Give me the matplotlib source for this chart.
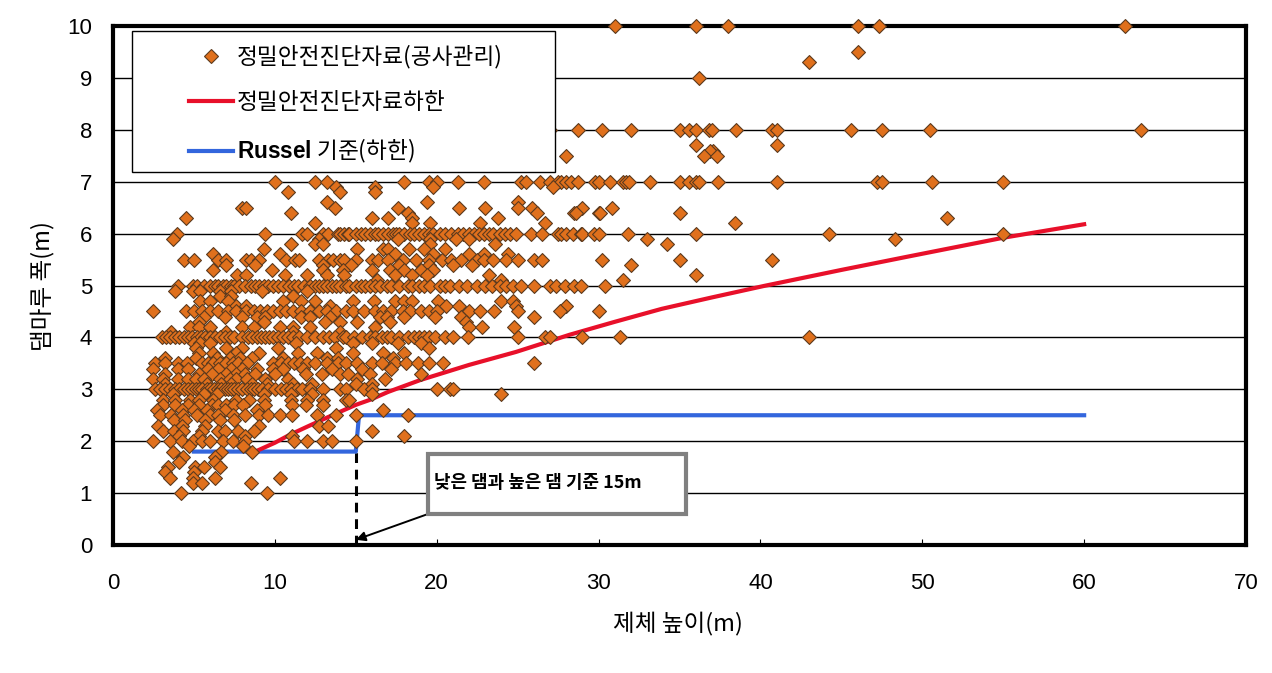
import matplotlib
matplotlib.use("Agg")
import matplotlib.pyplot as plt
from matplotlib.patches import Rectangle
from matplotlib.lines import Line2D

KR = ['Noto Sans CJK KR', 'DejaVu Sans']
plt.rcParams['font.family'] = KR
plt.rcParams['mathtext.fontset'] = 'custom'
plt.rcParams['mathtext.bf'] = 'Liberation Sans:bold'

W, H = 1272, 673

# points read row by row: height of the row, then the dam heights on it
x_100 = [31, 36, 38, 46, 47.3, 62.5]
x_95 = [46]
x_93 = [43]
x_90 = [36.2]
x_80 = [27, 28.7, 30.2, 32, 35, 35.6, 36, 36.8, 37, 38.5, 40.7, 41, 45.6, 47.5, 50.5, 63.5]
x_77 = [36, 41]
x_76 = [37.1, 36.9]
x_75 = [28, 36.5, 37.3]
x_70 = [10, 12.5, 13.2, 18, 19.5, 20, 21.3, 22.9, 25.2, 25.5, 26.4, 27, 27.5, 27.7, 28, 28.3, 28.7,
        29.8, 30, 30.7, 31.5, 31.7, 31.9, 33.2, 35, 35.6, 36, 36.2, 37.4, 41, 47.2, 47.5, 50.6, 55]
x_69 = [13.8, 16.2, 19.8, 27.2]
x_68 = [10.8, 14, 16.2]
x_66 = [13.2, 19.4, 25]
x_65 = [8, 8.2, 13.7, 17.6, 21.4, 23, 25, 25.9, 29, 30.8]
x_64 = [11, 18.2, 26.2, 28.5, 28.6, 30, 30.1, 35]
x_63 = [4.5, 16, 17, 18.5, 23.8, 51.5]
x_62 = [12.5, 18.45, 19.6, 22.7, 26.7, 38.4]
x_60 = [3.95, 9.4, 11.7, 12, 13, 13.3, 13.9, 14, 14.3, 14.5, 14.6, 15, 15.3, 15.6, 15.9, 16.2, 16.4, 16.7, 17, 17.3,
        17.5, 17.7, 18, 18.35, 18.6, 18.9, 19.2, 19.5, 19.8, 20.2, 20.5, 20.9, 21.3, 21.6, 22, 22.3, 22.6, 22.9,
        23.2, 23.5, 23.9, 24.2, 24.5, 24.9, 25.8, 26.5, 27.5, 27.7, 28, 28.4, 28.9, 29, 29.7, 30, 31.8, 36, 44.25, 55]
x_59 = [3.7, 12.7, 17.6, 19.6, 21.2, 22, 33, 48.3]
x_58 = [11, 12.5, 13, 19.6, 23.6, 34.2]
x_57 = [9.3, 15.1, 16.7, 17, 18.3, 19.2, 20.5]
x_56 = [6.2, 10.3, 17.4, 19.8, 22, 22.9, 24.4]
x_55 = [4.4, 5, 6.5, 7, 8.2, 8.5, 9, 10.7, 11.25, 11.5, 12.7, 13.3, 13.6, 14, 14.3, 15, 16, 16.4, 17, 17.9, 18.7,
        19.5, 20.3, 20.9, 21.5, 22.5, 22.9, 23.5, 24.3, 25, 26, 26.5, 30.2, 35, 40.7]
x_54 = [7, 8.8, 13, 14.7, 17.7, 19.5, 21, 22.2, 32]
x_53 = [6.2, 9.8, 13, 14.2, 16, 17.1, 18, 19, 19.8]
x_52 = [7.65, 8.2, 10.6, 12, 13.2, 14.3, 17.4, 18.45, 19.4, 23.2, 36]
x_51 = [16.3, 24, 31.5]
x_50 = [4, 4.95, 5.2, 5.6, 6, 6.3, 6.5, 6.8, 7, 7.3, 7.5, 7.8, 8.15, 8.5, 8.8, 9, 9.3, 9.6, 9.9, 10.2, 10.5, 10.9, 11.2,
        11.45, 11.8, 12.2, 12.5, 12.7, 13, 13.2, 13.5, 13.8, 14, 14.4, 14.6, 15, 15.3, 15.6, 15.9, 16.2, 16.5, 16.9, 17.2,
        17.7, 18.2, 18.5, 18.9, 19.2, 19.6, 20.2, 20.5, 20.8, 21.4, 21.9, 22.5, 23, 23.4, 23.9, 24.3, 24.7, 25.2, 26, 27,
        27.4, 27.9, 28.5, 28.9, 30.4]
x_49 = [3.8, 4.95, 5.4, 6.6, 7.3, 9.2, 12]
x_48 = [6.6, 7.3, 11.1]
x_47 = [5.4, 6, 7.1, 10.5, 11.6, 12.5, 14.8, 16.1, 17.4, 18, 18.45, 20.1, 24, 24.7]
x_46 = [7.6, 8.2, 13.4, 20.6, 21.4, 24.9, 28]
x_45 = [2.5, 4.5, 5, 5.5, 6, 6.5, 7.1, 7.6, 8.2, 8.7, 9.1, 9.5, 9.9, 10.3, 10.7, 11.1, 11.6, 12.2, 12.7, 13.2, 13.8,
        14.4, 14.8, 15.5, 16.2, 16.7, 17.2, 17.9, 18.35, 19, 19.5, 20, 22, 22.7, 23.55, 25, 27.6, 30]
x_44 = [5.6, 6.9, 8, 8.9, 9.4, 11.6, 12.2, 13.4, 16.5, 16.9, 18, 19.9, 21.5, 26]
x_43 = [5.3, 9.3, 13.1, 14, 15.1, 17.1, 21.8]
x_42 = [4.75, 5.3, 6, 8, 8.7, 10.3, 11.1, 12.2, 16.2, 22, 22.8, 24.8]
x_41 = [3.6, 7, 11.1, 14]
x_40 = [3, 3.3, 3.55, 3.8, 4.1, 4.4, 4.65, 4.9, 5.2, 5.45, 5.7, 6, 6.3, 6.6, 6.9, 7.2, 7.5, 7.95, 8.35, 8.6, 8.9, 9.15,
        9.4, 9.65, 9.9, 10.2, 10.5, 10.8, 11.1, 11.5, 12, 12.5, 13, 13.35, 13.7, 14.2, 14.4, 14.9, 15.4, 15.9, 16.2, 16.6,
        16.9, 17.2, 17.7, 18.25, 18.6, 18.9, 19.2, 19.5, 19.9, 20.5, 21, 21.95, 25, 26.7, 27, 29, 31.3, 43]
x_39 = [5, 5.4, 6, 11.3, 14.8, 16, 17.6, 19]
x_38 = [5.1, 7, 8, 10.2, 13.8, 19.5]
x_37 = [5.3, 6.2, 7.6, 9, 11.45, 12.6, 14.8, 16.7, 18]
x_36 = [3.2, 5.1, 6.4, 7.2, 7.85, 8.6, 10.5, 13.2, 13.9, 17.3]
x_35 = [2.6, 3.2, 4, 4.55, 5.5, 5.9, 6.2, 6.6, 7, 7.4, 7.75, 8.25, 9.9, 10.4, 10.8, 11.2, 11.55, 12, 12.5, 13.2, 13.9,
        14.4, 15.1, 16, 16.6, 17.4, 18.1, 18.85, 19.5, 20.4, 26]
x_34 = [2.5, 4, 4.65, 5.9, 6.5, 7.3, 7.95, 8.9, 9.9, 10.5, 11.75, 13.5, 15.4, 17.2]
x_33 = [3.2, 5.3, 6.1, 7, 7.6, 8.15, 8.8, 10, 11.9, 12.9, 14, 14.5, 15.9, 19]
x_32 = [2.5, 3.1, 4, 4.65, 5.1, 5.6, 6.6, 7.2, 7.6, 8.3, 9.4, 10.8, 15.1, 16.8]
x_31 = [3.2, 5.8, 6.7, 7.3, 8.6, 9.5, 11.1, 12.3, 15, 16]
x_30 = [2.6, 2.9, 3.2, 3.5, 3.8, 4.1, 4.4, 4.65, 4.9, 5.1, 5.3, 5.5, 5.8, 6, 6.25, 6.5, 6.7, 6.9, 7.1, 7.3, 7.5, 7.75,
        8, 8.25, 8.5, 8.7, 8.95, 9.2, 9.6, 10, 10.35, 10.7, 11, 11.35, 11.7, 12.2, 13, 14, 14.4, 15.5, 16, 20, 20.8, 21]
x_29 = [3.7, 5.6, 6.4, 9.3, 11, 12.3, 16, 24]
x_28 = [3.1, 3.8, 4.75, 5.3, 6.2, 7.6, 8.4, 9.3, 11, 12, 13, 14.4, 14.6]
x_27 = [3.1, 3.8, 4.65, 5.3, 6.1, 6.5, 7, 7.5, 8.05, 9.4, 11.05, 11.95, 13]
x_26 = [2.7, 4.25, 5, 5.8, 6.9, 8.9, 16.7]
x_25 = [2.9, 3.6, 4.35, 5.2, 6, 6.5, 7.4, 8.15, 9, 9.6, 10.3, 11.05, 12.6, 13.8, 15, 18.2]
x_24 = [3.75, 4.45, 5.7, 6.6, 7.5]
x_23 = [2.8, 4.25, 5.7, 9, 12.7, 13.3]
x_22 = [3.1, 3.75, 4.35, 5.5, 6.5, 6.9, 7.7, 8.7, 16]
x_21 = [4.05, 5.3, 8.15, 11.05, 18]
x_20 = [2.5, 3.5, 4.25, 4.95, 5.5, 6, 6.8, 7.4, 8.15, 11.2, 12, 13, 13.5, 15]
x_19 = [4.7, 8.05]
x_18 = [3.7, 6.7, 8.6]
x_17 = [4.35, 6.3]
x_16 = [4.05, 6.3]
x_15 = [3.4, 5.07, 5.6, 6.6]
x_14 = [3.2, 5]
x_13 = [3.5, 4.95, 6.3, 10.3]
x_12 = [4.95, 5.5, 8.5]
x_10 = [4.2, 9.5]

rows = [(10, x_100), (9.5, x_95), (9.3, x_93), (9, x_90), (8, x_80), (7.7, x_77), (7.6, x_76), (7.5, x_75),
        (7, x_70), (6.9, x_69), (6.8, x_68), (6.6, x_66), (6.5, x_65), (6.4, x_64), (6.3, x_63), (6.2, x_62),
        (6, x_60), (5.9, x_59), (5.8, x_58), (5.7, x_57), (5.6, x_56), (5.5, x_55), (5.4, x_54), (5.3, x_53),
        (5.2, x_52), (5.1, x_51), (5, x_50), (4.9, x_49), (4.8, x_48), (4.7, x_47), (4.6, x_46), (4.5, x_45),
        (4.4, x_44), (4.3, x_43), (4.2, x_42), (4.1, x_41), (4, x_40), (3.9, x_39), (3.8, x_38), (3.7, x_37),
        (3.6, x_36), (3.5, x_35), (3.4, x_34), (3.3, x_33), (3.2, x_32), (3.1, x_31), (3, x_30), (2.9, x_29),
        (2.8, x_28), (2.7, x_27), (2.6, x_26), (2.5, x_25), (2.4, x_24), (2.3, x_23), (2.2, x_22), (2.1, x_21),
        (2, x_20), (1.9, x_19), (1.8, x_18), (1.7, x_17), (1.6, x_16), (1.5, x_15), (1.4, x_14), (1.3, x_13),
        (1.2, x_12), (1, x_10)]

red_x = [9, 10, 10.9, 12, 13.4, 15, 15.9, 17, 19, 22, 24.9, 28.2, 31, 33.9, 37, 40.2, 45, 49, 55, 60]
red_y = [1.83, 1.97, 2.12, 2.28, 2.48, 2.7, 2.8, 2.95, 3.18, 3.47, 3.72, 4.05, 4.3, 4.55, 4.77, 4.99, 5.3, 5.55, 5.92, 6.18]
blue_x = [5, 15, 15.2, 60]
blue_y = [1.8, 1.8, 2.5, 2.5]
split_x = [15, 15]
split_y = [0, 1.8]

x_ticks = [0, 10, 20, 30, 40, 50, 60, 70]
y_ticks = [0, 1, 2, 3, 4, 5, 6, 7, 8, 9, 10]

legend_labels = ['정밀안전진단자료(공사관리)', '정밀안전진단자료하한', r'$\mathbf{Russel}$ 기준(하한)']
note = '낮은 댐과 높은 댐 기준 15m'


def fx(px):
    return px / W


def fy(py):
    return 1 - py / H


fig = plt.figure(figsize=(W / 100, H / 100), dpi=100)
ax = fig.add_axes([fx(113), fy(545), fx(1246) - fx(113), fy(26) - fy(545)])

pts_x = []
pts_y = []
for level, xs in rows:
    pts_x += xs
    pts_y += [level] * len(xs)

ax.set_xlim(0, 70)
ax.set_ylim(0, 10)
ax.set_xticks(x_ticks)
ax.set_yticks(y_ticks)
ax.grid(axis='y', color='black', lw=1, zorder=1)
ax.set_axisbelow(True)
ax.tick_params(axis='x', direction='in', length=4.5, width=0.8, pad=20)
ax.tick_params(axis='y', length=0, pad=15)
for lab in ax.get_xticklabels() + ax.get_yticklabels():
    lab.set_family(['Liberation Sans', 'DejaVu Sans'])
    lab.set_fontsize(16)
for s in ax.spines.values():
    s.set_linewidth(3)
    s.set_zorder(2)

ax.plot(split_x, split_y, color='black', lw=2.2, ls=(0, (3.2, 2.2)), zorder=3, clip_on=False)
blue, = ax.plot(blue_x, blue_y, color='#3366dd', lw=3, zorder=4)
red, = ax.plot(red_x, red_y, color='#e8102a', lw=3, zorder=4)
ax.scatter(pts_x, pts_y, marker='D', s=50, color='#e0701c', edgecolors='#5c3a1e', linewidths=0.8,
           zorder=5, clip_on=False)

ax.set_xlabel('제체 높이(m)', fontsize=17, labelpad=0)
ax.xaxis.set_label_coords((678 - 113) / (1246 - 113), -(623 - 545) / (545 - 26), transform=ax.transAxes)
ax.xaxis.label.set_va('center')
ax.set_ylabel('댐마루 폭(m)', fontsize=17)
ax.yaxis.set_label_coords(-(113 - 42) / (1246 - 113), (545 - 286) / (545 - 26), transform=ax.transAxes)
ax.yaxis.label.set_va('center')

fig.add_artist(Rectangle((fx(132), fy(172)), fx(555) - fx(132), fy(31) - fy(172), transform=fig.transFigure,
                         fc='white', ec='black', lw=1, zorder=6))
dots = Line2D([], [], ls='none', marker='D', ms=7, mfc='#e0701c', mec='#5c3a1e', mew=0.8)
leg = fig.legend([dots, red, blue], legend_labels, loc='upper left', bbox_to_anchor=(fx(189), fy(45)),
                 bbox_transform=fig.transFigure, frameon=False, borderpad=0, borderaxespad=0, fontsize=16.3,
                 handlelength=1.95, handletextpad=0.15, labelspacing=1.0)
leg.set_zorder(7)

fig.add_artist(Rectangle((fx(428), fy(514)), fx(686) - fx(428), fy(454) - fy(514), transform=fig.transFigure,
                         fc='white', ec='#808080', lw=3, zorder=6))
fig.text(fx(434), fy(483), note, fontsize=12.9, fontweight='bold', va='center', ha='left', zorder=7)
ax.annotate('', xy=(15, 0.1), xytext=(fx(428), fy(514)), textcoords='figure fraction',
            arrowprops=dict(arrowstyle='-|>', color='black', lw=1.4, mutation_scale=14, shrinkA=0, shrinkB=0),
            zorder=6)

fig.savefig('out.png', dpi=100)
